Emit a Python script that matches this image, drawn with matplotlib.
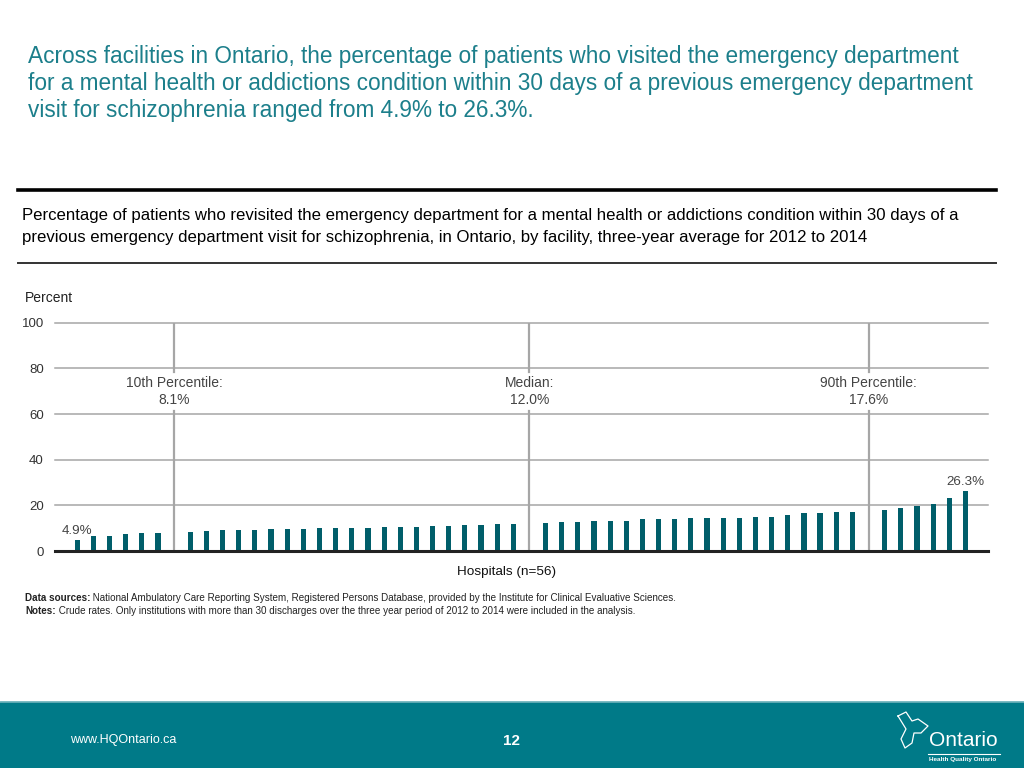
import matplotlib
matplotlib.use("Agg")
import matplotlib.pyplot as plt
from matplotlib.patches import Rectangle
from matplotlib.lines import Line2D

plt.rcParams['font.family'] = ['Liberation Sans', 'DejaVu Sans']

# ---------------- data ----------------
low_group = [4.9, 6.6, 6.6, 7.4, 7.7, 8.0]
mid_low_group = [8.3, 8.7, 9.0, 9.0, 9.2, 9.5, 9.8, 9.8, 10.2, 10.2, 10.2, 10.2,
                 10.6, 10.6, 10.6, 10.9, 10.9, 11.2, 11.4, 11.7, 11.9]
mid_high_group = [12.1, 12.5, 12.7, 13.1, 13.1, 13.1, 13.9, 13.9, 14.0, 14.3, 14.3,
                  14.5, 14.5, 14.7, 15.0, 15.8, 16.5, 16.6, 16.9, 17.1]
high_group = [18.0, 19.0, 19.9, 20.6, 23.1, 26.3]
marker_labels = ["10th Percentile:\n8.1%", "Median:\n12.0%", "90th Percentile:\n17.6%"]
y_ticks = [0, 20, 40, 60, 80, 100]

title = ("Across facilities in Ontario, the percentage of patients who visited the emergency department\n"
         "for a mental health or addictions condition within 30 days of a previous emergency department\n"
         "visit for schizophrenia ranged from 4.9% to 26.3%.")
subtitle = ("Percentage of patients who revisited the emergency department for a mental health or addictions condition within 30 days of a\n"
            "previous emergency department visit for schizophrenia, in Ontario, by facility, three-year average for 2012 to 2014")
source_notes = [
    ("Data sources:", " National Ambulatory Care Reporting System, Registered Persons Database, provided by the Institute for Clinical Evaluative Sciences."),
    ("Notes:", " Crude rates. Only institutions with more than 30 discharges over the three year period of 2012 to 2014 were included in the analysis."),
]

# positions: groups separated by one empty slot holding a percentile line
groups = [low_group, mid_low_group, mid_high_group, high_group]
bar_x, bar_h, line_x = [], [], []
slot = 0
for gi, g in enumerate(groups):
    for v in g:
        bar_x.append(slot)
        bar_h.append(v)
        slot += 1
    if gi < len(groups) - 1:
        line_x.append(slot)
        slot += 1

W, H = 1024, 768
fig = plt.figure(figsize=(W / 100, H / 100), dpi=100)

def fx(px):
    return px / W

def fy(py):
    return 1 - py / H

teal_text = '#1c7f8b'
bar_color = '#005e6a'
grid_gray = '#a6a6a6'

# title
fig.text(fx(28), fy(45), title, color=teal_text, fontsize=16.3, va='top', ha='left',
         linespacing=1.22)

# separator lines
fig.add_artist(Line2D([fx(18), fx(996)], [fy(190), fy(190)], color='black', lw=2.6))
fig.add_artist(Line2D([fx(18), fx(996)], [fy(263), fy(263)], color='#333333', lw=1.4))

fig.text(fx(22), fy(208), subtitle, color='black', fontsize=12.1, va='top', ha='left',
         linespacing=1.55)

# axes
ax_left, ax_right = 55, 988
ax_top, ax_bot = 322.7, 551
ax = fig.add_axes([fx(ax_left), fy(ax_bot), (ax_right - ax_left) / W, (ax_bot - ax_top) / H])
ax.set_xlim(-1.38, 56.4)
ax.set_ylim(0, 100)
for s in ax.spines.values():
    s.set_visible(False)
ax.set_yticks(y_ticks)
ax.set_yticklabels([str(t) for t in y_ticks], fontsize=9.5, color='#333333')
ax.tick_params(axis='y', length=0, pad=8)
ax.set_xticks([])
for t in y_ticks[1:]:
    ax.axhline(t, color=grid_gray, lw=1.1, zorder=1, clip_on=False)

ax.bar(bar_x, bar_h, width=0.32, color=bar_color, zorder=3)
ax.axhline(0, color='#222222', lw=2.2, zorder=4, clip_on=False)

for lx, lab in zip(line_x, marker_labels):
    ax.plot([lx, lx], [0, 61.5], color=grid_gray, lw=1.6, zorder=2)
    ax.plot([lx, lx], [78.5, 100], color=grid_gray, lw=1.6, zorder=2)
    ax.text(lx, 70, lab, ha='center', va='center', fontsize=10, color='#444444',
            linespacing=1.3)

ax.text(bar_x[0], bar_h[0] + 1.4, f"{bar_h[0]:.1f}%", ha='center', va='bottom',
        fontsize=9.6, color='#444444')
ax.text(bar_x[-1], bar_h[-1] + 1.4, f"{bar_h[-1]:.1f}%", ha='center', va='bottom',
        fontsize=9.6, color='#444444')

fig.text(fx(25), fy(298), "Percent", fontsize=10, color='#222222', va='center', ha='left')
fig.text(fx(507), fy(572), "Hospitals (n=56)", fontsize=9.7, color='#111111',
         va='center', ha='center')

# sources
renderer = fig.canvas.get_renderer()
for (bold_part, rest), ypx in zip(source_notes, [598, 611]):
    tb = fig.text(fx(25), fy(ypx), bold_part, fontsize=7.1, color='#222222',
                  va='center', ha='left', weight='bold')
    bb = tb.get_window_extent(renderer=renderer)
    fig.text(bb.x1 / W, fy(ypx), rest, fontsize=7.1, color='#222222',
             va='center', ha='left')

# footer
fig.add_artist(Rectangle((0, 0), 1, fy(702), transform=fig.transFigure,
                         color='#007a88', zorder=0))
fig.add_artist(Line2D([0, 1], [fy(702), fy(702)], color='#6fb3bc', lw=1.2))
fig.text(fx(70), fy(740), "www.HQOntario.ca", fontsize=9, color='white', va='center', ha='left')
fig.text(fx(512), fy(741), "12", fontsize=11, color='white', weight='bold',
         va='center', ha='center')
fig.text(fx(929), fy(740), "Ontario", fontsize=15, color='white', va='center', ha='left')
fig.add_artist(Line2D([fx(928), fx(1000)], [fy(754), fy(754)], color='white', lw=0.8))
fig.text(fx(929), fy(760), "Health Quality Ontario", fontsize=4.6, color='white',
         va='center', ha='left', weight='bold')
# simple trillium outline
tx = [fx(p) for p in [898, 906, 912, 918, 928, 921, 914, 912, 905, 901, 906, 898]]
ty = [fy(p) for p in [716, 712, 721, 719, 726, 733, 733, 743, 748, 739, 729, 716]]
fig.add_artist(Line2D(tx, ty, color='white', lw=0.9))

fig.savefig("out.png", dpi=100)
